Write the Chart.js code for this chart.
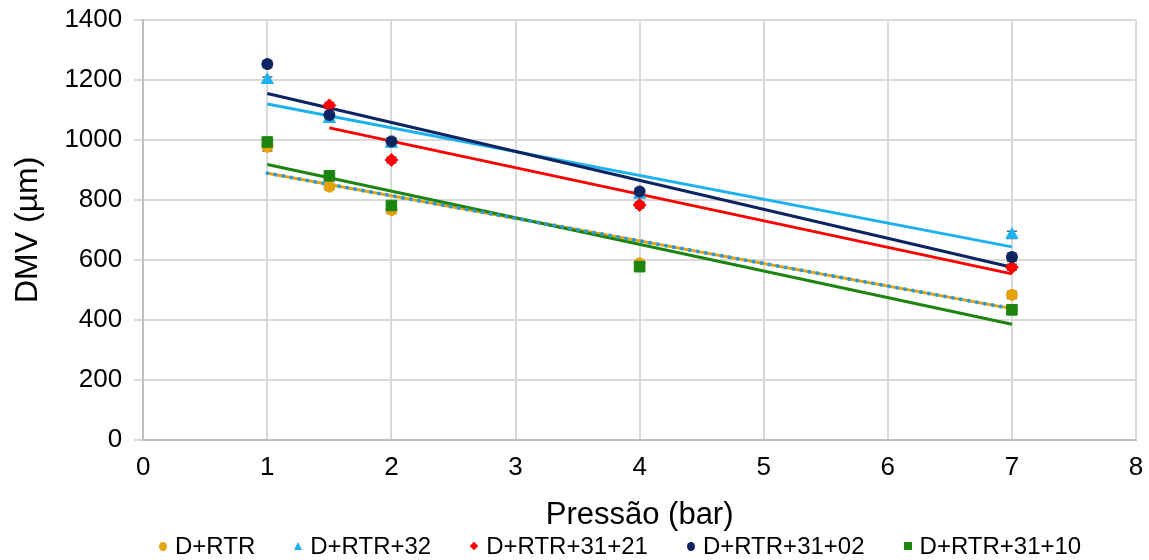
<!DOCTYPE html>
<html>
<head>
<meta charset="utf-8">
<script src="https://cdn.jsdelivr.net/npm/chart.js@4/dist/chart.umd.min.js"></script>
<style>
  html, body { margin: 0; padding: 0; background: #fff; }
  #wrap { position: relative; width: 1149px; height: 560px; }
  #legend {
    position: absolute; left: 159px; top: 532px; height: 28px;
    display: flex; align-items: center; gap: 39px;
    font-family: "Liberation Sans", Arial, sans-serif; font-size: 24px; color: #000;
  }
  .leg_item { display: flex; align-items: center; white-space: nowrap; }
  .leg_mark { width: 8px; height: 8px; margin-right: 8px; }
</style>
</head>
<body>
<div id="wrap">
  <canvas id="myChart" width="1149" height="560"></canvas>
  <div id="legend"></div>
</div>
<script>
// pressures (bar)
var pressures = [1, 1.5, 2, 4, 7];
var pressures3121 = [1.5, 2, 4, 7];

// DMV values (µm)
var dmvRTR = [977, 844, 766, 588, 483];
var dmvRTR32 = [1200, 1070, 987, 817, 683];
var dmvRTR3121 = [1115, 933, 783, 575];
var dmvRTR3102 = [1253, 1083, 995, 828, 609];
var dmvRTR3110 = [993, 880, 781, 577, 433];

// small error bars (µm)
var errRTR = [14, 10, 12, 10, 12];
var errRTR32 = [10, 10, 10, 10, 12];
var errRTR3121 = [10, 10, 10, 10];
var errRTR3102 = [12, 12, 12, 10, 14];
var errRTR3110 = [12, 10, 12, 12, 10];

// trend lines, ends
var trendX = [1, 7];
var trendX3121 = [1.5, 7];
var trendRTR = [889, 437];
var trendRTR32 = [1120, 643];
var trendRTR3121 = [1040, 553];
var trendRTR3102 = [1155, 575];
var trendRTR3110 = [918, 385];

// axis ticks
var xTicks = [0, 1, 2, 3, 4, 5, 6, 7, 8];
var yTicks = [0, 200, 400, 600, 800, 1000, 1200, 1400];

var names = ['D+RTR', 'D+RTR+32', 'D+RTR+31+21', 'D+RTR+31+02', 'D+RTR+31+10'];
var colors = ['#E3A20E', '#1CB2F0', '#FF0000', '#0C2461', '#1E8410'];
var styles = ['circle', 'triangle', 'rectRot', 'circle', 'rect'];
var radii = [5.5, 7, 6.5, 5.5, 7.5];

function pts(xs, ys) {
    return xs.map(function (x, i) { return { x: x, y: ys[i] }; });
}

var seriesX = [pressures, pressures, pressures3121, pressures, pressures];
var seriesY = [dmvRTR, dmvRTR32, dmvRTR3121, dmvRTR3102, dmvRTR3110];
var seriesErr = [errRTR, errRTR32, errRTR3121, errRTR3102, errRTR3110];
var trendXs = [trendX, trendX, trendX3121, trendX, trendX];
var trendYs = [trendRTR, trendRTR32, trendRTR3121, trendRTR3102, trendRTR3110];

var datasets = [];
names.forEach(function (name, i) {
    datasets.push({
        label: name,
        data: pts(seriesX[i], seriesY[i]),
        errors: seriesErr[i],
        showLine: false,
        pointStyle: styles[i],
        pointRadius: radii[i],
        pointBackgroundColor: colors[i],
        pointBorderColor: colors[i],
        pointBorderWidth: 1,
        backgroundColor: colors[i],
        borderColor: colors[i],
        order: 5 - i,
        isSeries: true
    });
});
names.forEach(function (name, i) {
    datasets.push({
        label: 'trend ' + name,
        data: pts(trendXs[i], trendYs[i]),
        showLine: true,
        pointRadius: 0,
        borderColor: colors[i],
        borderWidth: 3,
        order: 20 - i
    });
});
// blue dotted line laid over the orange trend line
datasets.push({
    label: 'trend dots',
    data: pts(trendX, trendRTR),
    showLine: true,
    pointRadius: 0,
    borderColor: '#2E9BD8',
    borderWidth: 4,
    borderDash: [0.1, 8],
    borderCapStyle: 'round',
    order: 10
});

var errorBars = {
    id: 'errorBars',
    beforeDatasetsDraw: function (chart) {
        var ctx = chart.ctx;
        var ys = chart.scales.y;
        ctx.save();
        ctx.strokeStyle = '#595959';
        ctx.lineWidth = 1.5;
        chart.data.datasets.forEach(function (ds, di) {
            if (!ds.isSeries) return;
            var meta = chart.getDatasetMeta(di);
            meta.data.forEach(function (pt, j) {
                var v = ds.data[j].y;
                var top = ys.getPixelForValue(v + ds.errors[j]);
                var bot = ys.getPixelForValue(v - ds.errors[j]);
                ctx.beginPath();
                ctx.moveTo(pt.x, top); ctx.lineTo(pt.x, bot);
                ctx.moveTo(pt.x - 5, top); ctx.lineTo(pt.x + 5, top);
                ctx.moveTo(pt.x - 5, bot); ctx.lineTo(pt.x + 5, bot);
                ctx.stroke();
            });
        });
        ctx.restore();
    }
};

Chart.defaults.font.family = '"Liberation Sans", Arial, sans-serif';
Chart.defaults.color = '#000';

var ctx = document.getElementById('myChart').getContext('2d');
var chart = new Chart(ctx, {
    type: 'scatter',
    data: { datasets: datasets },
    plugins: [errorBars],
    options: {
        responsive: false,
        animation: false,
        layout: { padding: { left: 9, right: 0, top: 0, bottom: 26 } },
        scales: {
            x: {
                type: 'linear',
                min: 0,
                max: 8,
                afterBuildTicks: function (axis) {
                    axis.ticks = xTicks.map(function (v) { return { value: v }; });
                },
                afterFit: function (axis) {
                    axis.paddingRight = 13;
                    axis.paddingLeft = 0;
                },
                ticks: { font: { size: 26 }, padding: 13, color: '#000' },
                grid: { color: '#D9D9D9', lineWidth: 2, drawTicks: false },
                border: { color: '#BFBFBF', width: 2 },
                title: { display: true, text: 'Pressão (bar)', font: { size: 31 }, padding: { top: 0, bottom: 0 }, color: '#000' }
            },
            y: {
                min: 0,
                max: 1400,
                afterBuildTicks: function (axis) {
                    axis.ticks = yTicks.map(function (v) { return { value: v }; });
                },
                afterFit: function (axis) {
                    axis.paddingTop = 20;
                    axis.paddingBottom = 0;
                },
                ticks: {
                    font: { size: 26 },
                    padding: 12,
                    color: '#000',
                    callback: function (v) { return String(v); }
                },
                grid: { color: '#D9D9D9', lineWidth: 2, drawTicks: true, tickLength: 9 },
                border: { color: '#BFBFBF', width: 2 },
                title: { display: true, text: 'DMV (µm)', font: { size: 32 }, padding: { top: 0, bottom: 5 }, color: '#000' }
            }
        },
        plugins: {
            tooltip: { enabled: false },
            legend: { display: false }
        }
    }
});

// legend below the chart
var legend = document.getElementById('legend');
names.forEach(function (name, i) {
    var item = document.createElement('div');
    item.className = 'leg_item';
    var mark = document.createElement('span');
    mark.className = 'leg_mark';
    if (styles[i] === 'circle') {
        mark.style.background = colors[i];
        mark.style.borderRadius = '50%';
        mark.style.height = '9px';
    } else if (styles[i] === 'triangle') {
        mark.style.width = '0';
        mark.style.height = '0';
        mark.style.borderLeft = '4px solid transparent';
        mark.style.borderRight = '4px solid transparent';
        mark.style.borderBottom = '8px solid ' + colors[i];
    } else if (styles[i] === 'rectRot') {
        mark.style.background = colors[i];
        mark.style.width = '6px';
        mark.style.height = '6px';
        mark.style.transform = 'rotate(45deg)';
        mark.style.marginLeft = '1px';
        mark.style.marginRight = '9px';
    } else {
        mark.style.background = colors[i];
    }
    var label = document.createElement('span');
    label.textContent = name;
    item.appendChild(mark);
    item.appendChild(label);
    legend.appendChild(item);
});
</script>
</body>
</html>
